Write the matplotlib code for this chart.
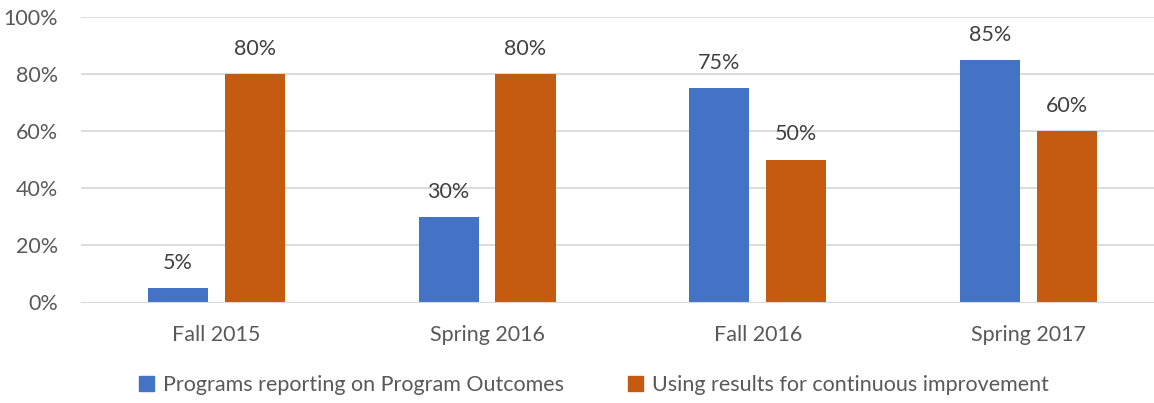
import numpy as np
import matplotlib
matplotlib.use("Agg")
from matplotlib import pyplot as plt
from matplotlib.patches import Patch

plt.rcParams['font.family'] = ['Lato', 'DejaVu Sans']

terms = ["Fall 2015", "Spring 2016", "Fall 2016", "Spring 2017"]
reporting = [5, 30, 75, 85]
improving = [80, 80, 50, 60]
series_names = ["Programs reporting on Program Outcomes",
                "Using results for continuous improvement"]

blue = "#4472C4"
orange = "#C55A11"
txt = "#595959"
grid = "#D9D9D9"

fig = plt.figure(figsize=(11.54, 4.03), dpi=100)
ax = fig.add_axes([81 / 1154, 100.5 / 403, 1 - 81 / 1154, 285.5 / 403])

x = np.arange(len(terms))
w = 0.222
off = 0.142
b1 = ax.bar(x - off, reporting, w, color=blue, zorder=3)
b2 = ax.bar(x + off, improving, w, color=orange, zorder=3)

for bars, vals in ((b1, reporting), (b2, improving)):
    for rect, v in zip(bars, vals):
        ax.annotate("%d%%" % v, (rect.get_x() + rect.get_width() / 2, v),
                    xytext=(0, 11), textcoords="offset points",
                    ha="center", va="bottom", fontsize=15.5, color="#404040")

ax.set_xlim(-0.5, 3.464)
ax.set_ylim(0, 100)
ax.set_yticks(range(0, 101, 20))
ax.set_yticklabels(["%d%%" % t for t in range(0, 101, 20)])
ax.set_xticks(x)
ax.set_xticklabels(terms)
ax.tick_params(axis="both", length=0, labelsize=15.5, labelcolor=txt)
ax.tick_params(axis="y", pad=16.5)
ax.tick_params(axis="x", pad=16)
ax.yaxis.grid(True, color=grid, linewidth=1.3, zorder=0)
for s in ax.spines.values():
    s.set_visible(False)
ax.axhline(0, color=grid, linewidth=1.5, zorder=4)

handles = [Patch(color=blue), Patch(color=orange)]
fig.legend(handles, series_names, loc="center", bbox_to_anchor=(594 / 1154, 1 - 385 / 403),
           ncol=2, frameon=False, fontsize=15.5, labelcolor=txt,
           handlelength=0.7, handleheight=0.7, handletextpad=0.4, columnspacing=3.0)

fig.savefig("out.png", dpi=100)
